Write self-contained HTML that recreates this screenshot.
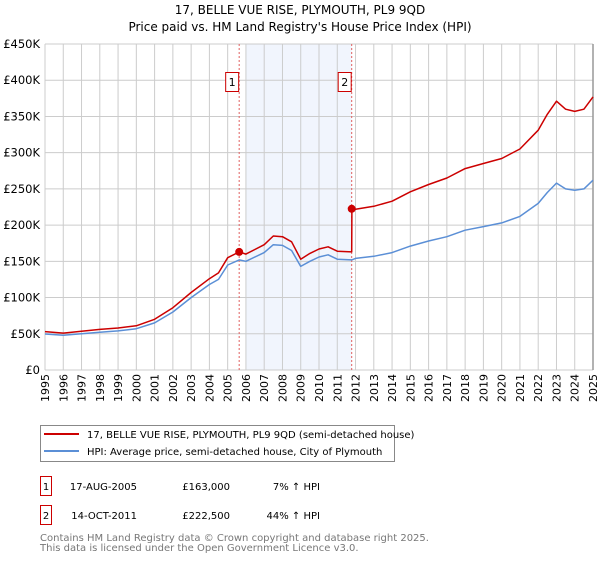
<!DOCTYPE html>
<html><head><meta charset="utf-8"><style>
body{margin:0;background:#fff;font-family:"DejaVu Sans","Liberation Sans",sans-serif}
svg text{font-family:"DejaVu Sans","Liberation Sans",sans-serif}
</style></head><body>
<svg width="600" height="560" viewBox="0 0 600 560">
<g id="plot"></g>
<text x="300" y="14" font-size="12" text-anchor="middle">17, BELLE VUE RISE, PLYMOUTH, PL9 9QD</text>
<text x="300" y="31" font-size="12" text-anchor="middle">Price paid vs. HM Land Registry's House Price Index (HPI)</text>
<g>
<rect x="40.5" y="425.5" width="354" height="36" fill="#fff" stroke="#888"/>
<line x1="44" y1="434" x2="79" y2="434" stroke="#cc0000" stroke-width="2"/>
<text x="87" y="438" font-size="10">17, BELLE VUE RISE, PLYMOUTH, PL9 9QD (semi-detached house)</text>
<line x1="44" y1="451" x2="79" y2="451" stroke="#5b8fd6" stroke-width="2"/>
<text x="87" y="455" font-size="10">HPI: Average price, semi-detached house, City of Plymouth</text>
</g>
<g font-size="10">
<rect x="40.5" y="476.5" width="11" height="19" fill="none" stroke="#cc0000"/>
<text x="46" y="490" text-anchor="middle">1</text>
<text x="137" y="490" text-anchor="end">17-AUG-2005</text>
<text x="230" y="490" text-anchor="end">£163,000</text>
<text x="320" y="490" text-anchor="end">7% ↑ HPI</text>
<rect x="40.5" y="505.5" width="11" height="19" fill="none" stroke="#cc0000"/>
<text x="46" y="519" text-anchor="middle">2</text>
<text x="137" y="519" text-anchor="end">14-OCT-2011</text>
<text x="230" y="519" text-anchor="end">£222,500</text>
<text x="320" y="519" text-anchor="end">44% ↑ HPI</text>
</g>
<text x="40" y="541" font-size="10" fill="#777">Contains HM Land Registry data © Crown copyright and database right 2025.</text>
<text x="40" y="551" font-size="10" fill="#777">This data is licensed under the Open Government Licence v3.0.</text>
</svg>
<script>
const hpiYears=[1995,1996,1997,1998,1999,2000,2001,2002,2003,2004,2004.5,2005,2005.63,2006,2007,2007.5,2008,2008.5,2009,2009.5,2010,2010.5,2011,2011.79,2012,2013,2014,2015,2016,2017,2018,2019,2020,2021,2022,2022.5,2023,2023.5,2024,2024.5,2025];
const hpiValues=[49.7,48,50,52,54,57,65,80,100,118,125,145,152,150,162,173,172,165,143,150,156,159,153,152,154,157,162,171,178,184,193,198,203,212,230,245,258,250,248,250,262];
const priceYears=[1995,1996,1997,1998,1999,2000,2001,2002,2003,2004,2004.5,2005,2005.63,2006,2007,2007.5,2008,2008.5,2009,2009.5,2010,2010.5,2011,2011.79,2011.8,2012,2013,2014,2015,2016,2017,2018,2019,2020,2021,2022,2022.5,2023,2023.5,2024,2024.5,2025];
const priceValues=[53,51,53.5,56,58,61,70,86,107,126,134,155,163,160,173,185,184,177,153,161,167,170,164,163,222.5,222,226,233,246,256,265,278,285,292,305,331,353,371,360,357,360,377];
const saleYears=[2005.63,2011.79];
const saleValues=[163,222.5];
const saleLabels=["1","2"];
const yTicks=[0,50,100,150,200,250,300,350,400,450];
const yTickLabels=["£0","£50K","£100K","£150K","£200K","£250K","£300K","£350K","£400K","£450K"];
const xTicks=[1995,1996,1997,1998,1999,2000,2001,2002,2003,2004,2005,2006,2007,2008,2009,2010,2011,2012,2013,2014,2015,2016,2017,2018,2019,2020,2021,2022,2023,2024,2025];

const X0=45,X1=593,Y0=370,Y1=44;
const xs=y=>X0+(y-1995)/30*(X1-X0);
const ys=v=>Y0-v/450*(Y0-Y1);
const NS="http://www.w3.org/2000/svg";
const g=document.getElementById('plot');
function mk(t,a){const e=document.createElementNS(NS,t);for(const k in a)e.setAttribute(k,a[k]);g.appendChild(e);return e;}
let e=mk('rect',{x:xs(2006),y:Y1,width:xs(saleYears[1])-xs(2006),height:Y0-Y1,fill:'#f1f5fd'});


yTicks.forEach((v,i)=>{
 let l=mk('line',{x1:X0,x2:X1,y1:ys(v),y2:ys(v),stroke:'#ccc','stroke-width':1});
 
 
 let t=mk('text',{x:40,y:ys(v)+4,'font-size':11.5,'text-anchor':'end'});t.textContent=yTickLabels[i];
 
 
});
xTicks.forEach(y=>{
 let l=mk('line',{x1:xs(y),x2:xs(y),y1:Y1,y2:Y0,stroke:'#ccc','stroke-width':1});
 
 
 let t=mk('text',{x:0,y:0,'font-size':11,'text-anchor':'end',transform:`translate(${xs(y)+4},374) rotate(-90)`});t.textContent=y;
 
 
});
e=mk('line',{x1:X1,x2:X1,y1:Y1,y2:Y0,stroke:'#999','stroke-width':1.5});


saleYears.forEach((y,i)=>{
 let l=mk('line',{x1:xs(y),x2:xs(y),y1:Y1,y2:Y0,stroke:'#e06060','stroke-width':1,'stroke-dasharray':'2,2'});
 
 
 let r=mk('rect',{x:xs(y)-13.5,y:72.5,width:13,height:19,fill:'#fff',stroke:'#cc0000'});
 
 
 let t=mk('text',{x:xs(y)-7,y:86,'font-size':11,'text-anchor':'middle'});t.textContent=saleLabels[i];
 
 
});
function path(xa,va,c,n){let d=xa.map((y,i)=>(i?'L':'M')+xs(y).toFixed(1)+','+ys(va[i]).toFixed(1)).join('');
 let p=mk('path',{d:d,fill:'none',stroke:c,'stroke-width':1.5,'stroke-linejoin':'round'});
 
 }
path(hpiYears,hpiValues,'#5b8fd6','hpi-line');
path(priceYears,priceValues,'#cc0000','price-line');
saleYears.forEach((y,i)=>{let c=mk('circle',{cx:xs(y),cy:ys(saleValues[i]),r:4,fill:'#cc0000'});
 
 });
</script>
</body></html>
